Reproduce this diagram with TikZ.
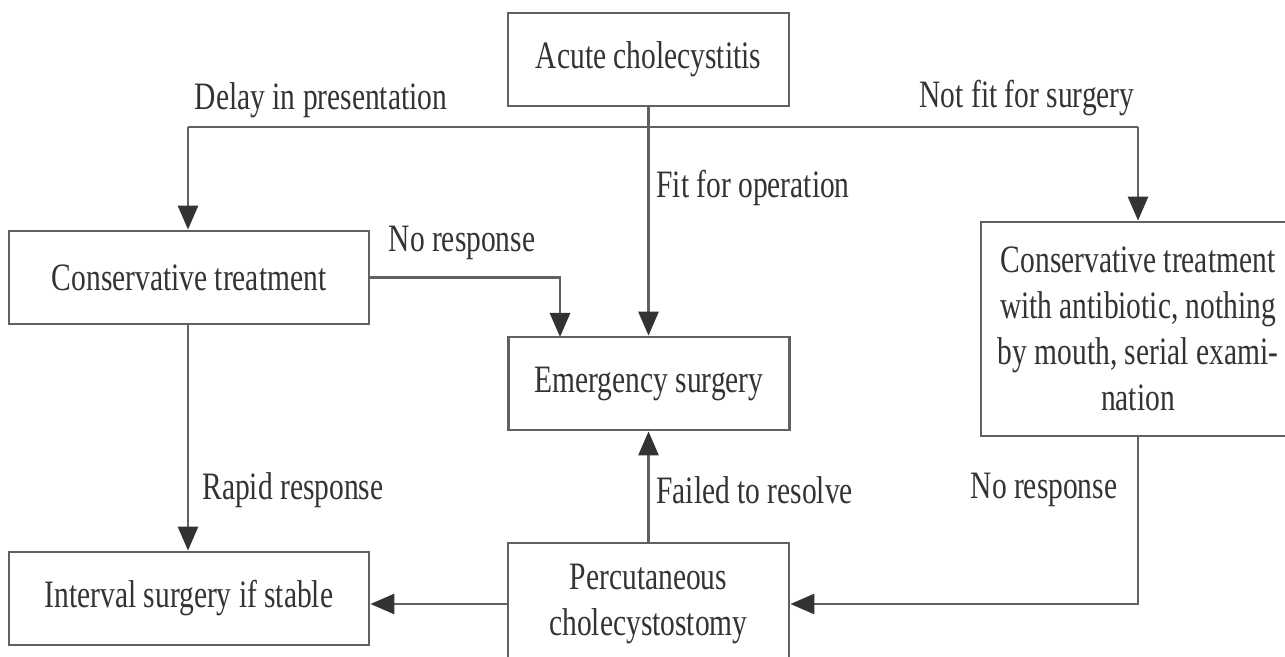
\documentclass[tikz,border=0pt]{standalone}
\usepackage{fontspec}
\setmainfont{Liberation Serif}[FakeStretch=0.76]
\usetikzlibrary{arrows.meta}
\definecolor{linec}{gray}{0.38}
\definecolor{textc}{gray}{0.2}
\begin{document}
\begin{tikzpicture}[x=0.5pt,y=-0.5pt,
  every node/.style={font=\fontsize{19.4pt}{23pt}\selectfont, text=textc},
  box/.style={draw=linec, line width=1.4pt, inner sep=0pt, align=center, fill=white},
  lbl/.style={inner sep=0pt},
  conn/.style={draw=linec, line width=1.4pt},
  arr/.style={conn, -{Triangle[length=12pt,width=10pt,fill=black!80,color=black!80]}}]
\useasboundingbox[fill=white] (0,0) rectangle (1285,657);

\node[box, minimum width=140.5pt, minimum height=46.5pt] (acute) at (648.5,59.5) {Acute cholecystitis};
\node[box, minimum width=180pt, minimum height=46.5pt] (cons) at (189,277.5) {Conservative treatment};
\node[box, minimum width=140.5pt, minimum height=46.5pt] (emerg) at (649,383.5) {Emergency surgery};
\node[box, minimum width=180pt, minimum height=46.5pt] (interval) at (189,598.5) {Interval surgery if stable};
\node[box, minimum width=140.5pt, minimum height=61pt] (perc) at (648.5,604) {Percutaneous\\cholecystostomy};
\node[box, minimum width=157pt, minimum height=107pt] (right) at (1138,329) {Conservative treatment\\with antibiotic, nothing\\by mouth, serial exami-\\nation};

\coordinate (hl) at (188,127);
\coordinate (hr) at (1138,127);
\coordinate (e1) at (560,337);

\draw[conn] (hl) -- (hr);
\draw[arr] (hl) -- (cons.north -| hl);
\draw[arr] (hr) -- (right.north);
\draw[arr] (acute.south) -- (acute.south |- emerg.north);
\draw[arr] (cons.east) -| (e1);
\draw[arr] (cons.south -| hl) -- (interval.north -| hl);
\draw[arr] (perc.north -| acute.south) -- (emerg.south -| acute.south);
\draw[arr] (perc.west) -- (perc.west -| interval.east);
\draw[arr] (right.south) |- (perc.east);

\node[lbl] (l1) at (321,100) {Delay in presentation};
\node[lbl] (l2) at (1027,98) {Not fit for surgery};
\node[lbl, anchor=west] (l3) at (656,188) {Fit for operation};
\node[lbl] (l4) at (462,243) {No response};
\node[lbl, anchor=west] (l5) at (202,490) {Rapid response};
\node[lbl, anchor=west] (l6) at (656,490) {Failed to resolve};
\node[lbl] (l7) at (1044,490) {No response};
\end{tikzpicture}
\end{document}
